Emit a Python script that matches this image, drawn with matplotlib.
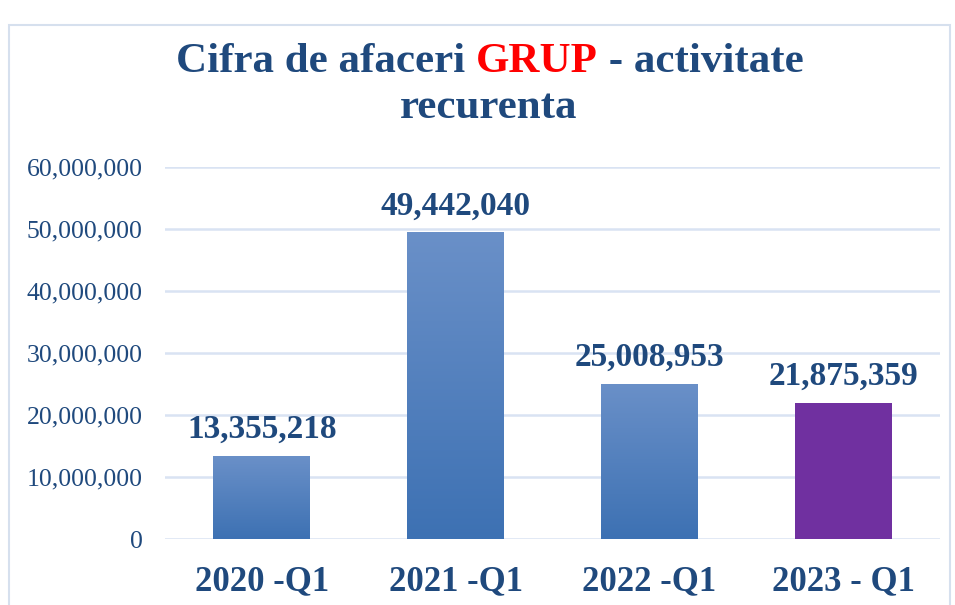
import matplotlib
matplotlib.use("Agg")
import matplotlib.pyplot as plt
import numpy as np
from matplotlib.patches import Rectangle
from matplotlib.ticker import FuncFormatter

categories = ["2020 -Q1", "2021 -Q1", "2022 -Q1", "2023 - Q1"]
values = [13355218, 49442040, 25008953, 21875359]
yticks = [0, 10000000, 20000000, 30000000, 40000000, 50000000, 60000000]

TXT = "#1F497D"
GRID = "#D9E3F3"
SERIF = ["Liberation Serif", "DejaVu Serif"]

fig = plt.figure(figsize=(9.55, 6.05), dpi=100)
fig.patch.set_facecolor("white")
ax = fig.add_axes([165/955, 1-539/605, (940-165)/955, (539-167)/605])

x = np.arange(len(categories))
colors = ["#4A7CC0", "#4A7CC0", "#4A7CC0", "#7030A0"]
bars = ax.bar(x, values, width=0.5, color=colors, zorder=2)

# gradient fill for blue bars
top_c = np.array([0x6A, 0x90, 0xC8]) / 255
bot_c = np.array([0x3D, 0x71, 0xB3]) / 255
grad = np.linspace(0, 1, 256)[:, None]
img = (bot_c[None, None, :] * (1 - grad[..., None]) + top_c[None, None, :] * grad[..., None])
for b in list(bars)[:3]:
    bx, bw, bh = b.get_x(), b.get_width(), b.get_height()
    im = ax.imshow(img, extent=[bx, bx + bw, 0, bh], origin="lower",
                   aspect="auto", zorder=3, interpolation="bilinear")
    im.set_clip_path(b)

ax.set_xlim(-0.5, len(categories) - 0.5)
ax.set_ylim(0, 60000000)
ax.set_yticks(yticks)
ax.yaxis.set_major_formatter(FuncFormatter(lambda v, p: f"{int(v):,}"))
ax.grid(axis="y", color=GRID, linewidth=1.8, zorder=0)
ax.set_axisbelow(True)
for s in ax.spines.values():
    s.set_visible(False)
ax.tick_params(axis="y", length=0, pad=16, labelsize=18.5, labelcolor=TXT)
ax.tick_params(axis="x", length=0, pad=19, labelsize=25, labelcolor=TXT)
ax.set_xticks(x)
ax.set_xticklabels(categories)
for lab in ax.get_yticklabels():
    lab.set_family(SERIF)
for lab in ax.get_xticklabels():
    lab.set_family(SERIF)
    lab.set_fontweight("bold")

ax.bar_label(bars, labels=[f"{v:,}" for v in values], padding=8,
             fontsize=24, fontweight="bold", color=TXT, family=SERIF)

# figure border
fig.add_artist(Rectangle((9/955, -0.05), (950-9)/955, 1-25/605+0.05,
                         transform=fig.transFigure, fill=False,
                         edgecolor="#D6E0EE", linewidth=1.5))

# multi-colour title
parts = [("Cifra de afaceri ", TXT), ("GRUP", "#FF0000"), (" - activitate", TXT)]
fig.canvas.draw()
r = fig.canvas.get_renderer()
tobjs = []
for s, c in parts:
    t = fig.text(0, 1-62/605, s, fontsize=31, fontweight="bold", color=c,
                 family=SERIF, va="center", ha="left")
    tobjs.append(t)
widths = [t.get_window_extent(r).width for t in tobjs]
total = sum(widths)
start = 490 - total / 2
for t, w in zip(tobjs, widths):
    t.set_x(start / 955)
    start += w
fig.text(489/955, 1-108/605, "recurenta", fontsize=31, fontweight="bold",
         color=TXT, family=SERIF, va="center", ha="center")

fig.savefig("out.png", dpi=100)
